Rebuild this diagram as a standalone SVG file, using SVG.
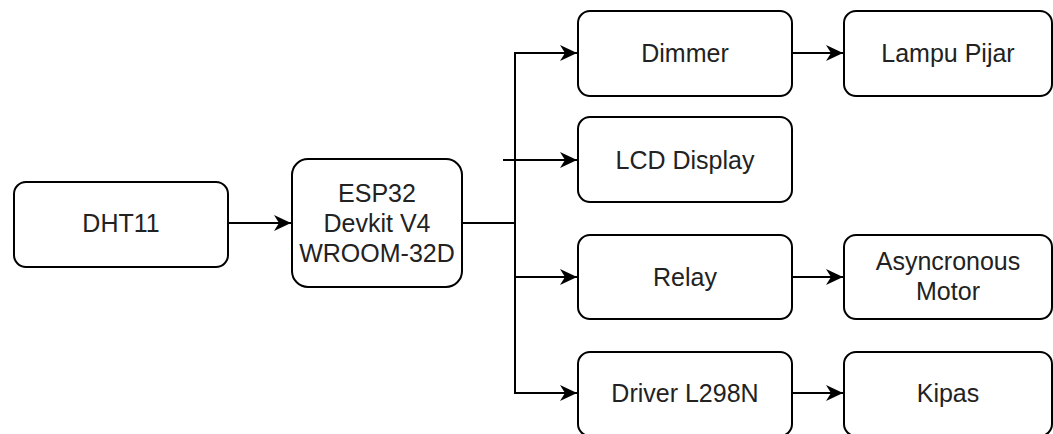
<svg xmlns="http://www.w3.org/2000/svg" width="1053" height="434" viewBox="0 0 1053 434">
<style>
.box{fill:#fff;stroke:#000;stroke-width:2}
.t{font-family:"Liberation Sans",Arial,sans-serif;font-size:25px;fill:#222;text-anchor:middle}
.c{fill:none;stroke:#000;stroke-width:2}
</style>
<defs>
<marker id="ah" viewBox="0 0 18 16" refX="17" refY="8" markerWidth="18" markerHeight="16" markerUnits="userSpaceOnUse" orient="auto">
<path d="M0,0 L17,8 L0,16 L5,8 Z" fill="#000"/>
</marker>
</defs>
<rect width="1053" height="434" fill="#fff"/>
<g id="connectors">
<path class="c" d="M228,223 H291" marker-end="url(#ah)"/>
<path class="c" d="M462,223 H515"/>
<path class="c" d="M515,223 V53 H577" marker-end="url(#ah)"/>
<path class="c" d="M503,160 H577" marker-end="url(#ah)"/>
<path class="c" d="M515,223 V277 H577" marker-end="url(#ah)"/>
<path class="c" d="M515,277 V393 H577" marker-end="url(#ah)"/>
<path class="c" d="M792,53 H843" marker-end="url(#ah)"/>
<path class="c" d="M792,277 H843" marker-end="url(#ah)"/>
<path class="c" d="M792,393 H843" marker-end="url(#ah)"/>
</g>
<g id="dht11">
<rect class="box" x="14" y="182" width="214" height="85" rx="12"/>
<text class="t" x="121" y="232">DHT11</text>
</g>
<g id="esp32">
<rect class="box" x="292" y="159" width="170" height="128" rx="16"/>
<text class="t" x="377" y="202">ESP32</text>
<text class="t" x="377" y="232">Devkit V4</text>
<text class="t" x="377" y="262">WROOM-32D</text>
</g>
<g id="dimmer">
<rect class="box" x="578" y="11" width="214" height="85" rx="12"/>
<text class="t" x="685" y="62">Dimmer</text>
</g>
<g id="lcd">
<rect class="box" x="578" y="117" width="214" height="85" rx="12"/>
<text class="t" x="685" y="169">LCD Display</text>
</g>
<g id="relay">
<rect class="box" x="578" y="235" width="214" height="84" rx="12"/>
<text class="t" x="685" y="286">Relay</text>
</g>
<g id="driver">
<rect class="box" x="578" y="352" width="214" height="84" rx="12"/>
<text class="t" x="685" y="402">Driver L298N</text>
</g>
<g id="lampu">
<rect class="box" x="844" y="11" width="208" height="85" rx="12"/>
<text class="t" x="948" y="62">Lampu Pijar</text>
</g>
<g id="motor">
<rect class="box" x="844" y="235" width="208" height="84" rx="12"/>
<text class="t" x="948" y="270">Asyncronous</text>
<text class="t" x="948" y="300">Motor</text>
</g>
<g id="kipas">
<rect class="box" x="844" y="352" width="208" height="84" rx="12"/>
<text class="t" x="948" y="402">Kipas</text>
</g>
</svg>
